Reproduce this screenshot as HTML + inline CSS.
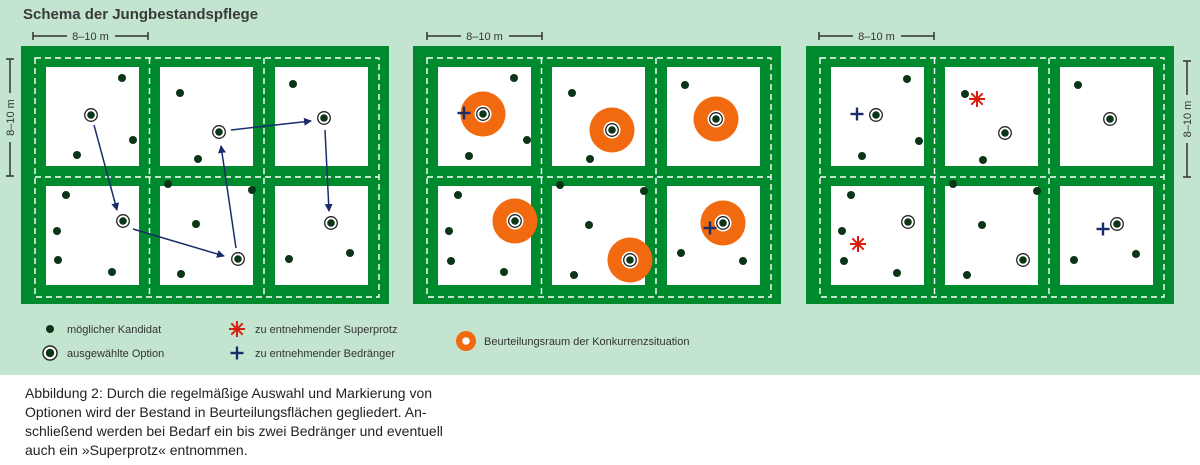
<!DOCTYPE html>
<html><head><meta charset="utf-8"><style>
html,body{margin:0;padding:0;background:#fff;}
svg{display:block;font-family:"Liberation Sans",sans-serif;}
</style></head><body>
<svg width="1200" height="465" viewBox="0 0 1200 465" xmlns="http://www.w3.org/2000/svg">
<defs>
<g id="panel">
<rect x="21" y="46" width="368" height="258" fill="#008a2e"/>
<rect x="46" y="67" width="93" height="99" fill="#fff"/>
<rect x="160" y="67" width="93" height="99" fill="#fff"/>
<rect x="275" y="67" width="93" height="99" fill="#fff"/>
<rect x="46" y="186" width="93" height="99" fill="#fff"/>
<rect x="160" y="186" width="93" height="99" fill="#fff"/>
<rect x="275" y="186" width="93" height="99" fill="#fff"/>
<g stroke="#fff" stroke-width="1.4" stroke-dasharray="6 4" fill="none">
<rect x="35" y="58" width="344" height="239"/>
<line x1="35" y1="177" x2="379" y2="177"/>
<line x1="149.5" y1="58" x2="149.5" y2="297"/>
<line x1="264" y1="58" x2="264" y2="297"/>
</g>
</g>
<g id="opt"><circle r="6.3" fill="#fff" stroke="#222" stroke-width="1.3"/><circle r="3.8" fill="#0b3516"/></g>
<g id="ring"><circle r="22.5" fill="#f26a0f"/><circle r="8.5" fill="#fff"/><use href="#opt"/></g>
<circle id="d" r="4" fill="#0b3516"/>
<g id="star" stroke="#d7200f" stroke-width="2"><line x1="-8" y1="0" x2="8" y2="0"/><line x1="0" y1="-8" x2="0" y2="8"/><line x1="-5.7" y1="-5.7" x2="5.7" y2="5.7"/><line x1="-5.7" y1="5.7" x2="5.7" y2="-5.7"/></g>
<g id="plus" stroke="#1a2d6b" stroke-width="2.4"><line x1="-6.5" y1="0" x2="6.5" y2="0"/><line x1="0" y1="-6.5" x2="0" y2="6.5"/></g>
<marker id="ah" markerWidth="8" markerHeight="8" refX="7" refY="4" orient="auto" markerUnits="userSpaceOnUse"><path d="M0,0 L8,4 L0,8 Z" fill="#1a2d6b"/></marker>
<g id="hbar" stroke="#333" stroke-width="1.5"><line x1="0" y1="-4" x2="0" y2="4"/><line x1="0" y1="0" x2="34" y2="0"/><line x1="82" y1="0" x2="115" y2="0"/><line x1="115" y1="-4" x2="115" y2="4"/></g>
</defs>
<rect x="0" y="0" width="1200" height="375" fill="#c3e4cf"/>
<text x="23" y="19" font-size="15" font-weight="bold" fill="#3a3a3a">Schema der Jungbestandspflege</text>

<!-- scale bars -->
<use href="#hbar" x="33" y="36"/><text x="90.5" y="40" font-size="11" fill="#333" text-anchor="middle">8–10 m</text>
<use href="#hbar" x="427" y="36"/><text x="484.5" y="40" font-size="11" fill="#333" text-anchor="middle">8–10 m</text>
<use href="#hbar" x="819" y="36"/><text x="876.5" y="40" font-size="11" fill="#333" text-anchor="middle">8–10 m</text>
<g stroke="#333" stroke-width="1.5">
<line x1="6" y1="59" x2="14" y2="59"/><line x1="10" y1="59" x2="10" y2="93"/><line x1="10" y1="142" x2="10" y2="176"/><line x1="6" y1="176" x2="14" y2="176"/>
<line x1="1183" y1="61" x2="1191" y2="61"/><line x1="1187" y1="61" x2="1187" y2="95"/><line x1="1187" y1="143" x2="1187" y2="177"/><line x1="1183" y1="177" x2="1191" y2="177"/>
</g>
<text transform="translate(14,117.5) rotate(-90)" font-size="11" fill="#333" text-anchor="middle">8–10 m</text>
<text transform="translate(1191,119) rotate(-90)" font-size="11" fill="#333" text-anchor="middle">8–10 m</text>

<use href="#panel"/>
<use href="#panel" x="392"/>
<use href="#panel" x="785"/>

<!-- panel 1 -->
<g>
<use href="#d" x="122" y="78"/><use href="#d" x="180" y="93"/><use href="#d" x="133" y="140"/><use href="#d" x="77" y="155"/><use href="#d" x="293" y="84"/><use href="#d" x="198" y="159"/>
<use href="#d" x="66" y="195"/><use href="#d" x="57" y="231"/><use href="#d" x="58" y="260"/><use href="#d" x="112" y="272"/><use href="#d" x="168" y="184"/><use href="#d" x="252" y="190"/><use href="#d" x="196" y="224"/><use href="#d" x="181" y="274"/><use href="#d" x="289" y="259"/><use href="#d" x="350" y="253"/>
<g stroke="#1a2d6b" stroke-width="1.5" marker-end="url(#ah)">
<line x1="94" y1="125" x2="117" y2="210"/>
<line x1="231" y1="130" x2="311" y2="121"/>
<line x1="325" y1="130" x2="329" y2="211"/>
<line x1="133" y1="229" x2="224" y2="256"/>
<line x1="236" y1="248" x2="221" y2="146"/>
</g>
<use href="#opt" x="91" y="115"/><use href="#opt" x="219" y="132"/><use href="#opt" x="324" y="118"/><use href="#opt" x="123" y="221"/><use href="#opt" x="238" y="259"/><use href="#opt" x="331" y="223"/>
</g>

<!-- panel 2 -->
<g>
<use href="#d" x="514" y="78"/><use href="#d" x="572" y="93"/><use href="#d" x="527" y="140"/><use href="#d" x="469" y="156"/><use href="#d" x="685" y="85"/><use href="#d" x="590" y="159"/>
<use href="#d" x="458" y="195"/><use href="#d" x="449" y="231"/><use href="#d" x="451" y="261"/><use href="#d" x="504" y="272"/><use href="#d" x="560" y="185"/><use href="#d" x="644" y="191"/><use href="#d" x="589" y="225"/><use href="#d" x="574" y="275"/><use href="#d" x="743" y="261"/><use href="#d" x="681" y="253"/>
<use href="#ring" x="483" y="114"/><use href="#ring" x="612" y="130"/><use href="#ring" x="716" y="119"/><use href="#ring" x="515" y="221"/><use href="#ring" x="630" y="260"/><use href="#ring" x="723" y="223"/>
<use href="#plus" x="464" y="113"/><use href="#plus" x="710" y="228"/>
</g>

<!-- panel 3 -->
<g>
<use href="#d" x="907" y="79"/><use href="#d" x="862" y="156"/><use href="#d" x="919" y="141"/><use href="#d" x="965" y="94"/><use href="#d" x="983" y="160"/><use href="#d" x="1078" y="85"/>
<use href="#d" x="851" y="195"/><use href="#d" x="842" y="231"/><use href="#d" x="844" y="261"/><use href="#d" x="897" y="273"/><use href="#d" x="953" y="184"/><use href="#d" x="1037" y="191"/><use href="#d" x="982" y="225"/><use href="#d" x="967" y="275"/><use href="#d" x="1074" y="260"/><use href="#d" x="1136" y="254"/>
<use href="#opt" x="876" y="115"/><use href="#opt" x="1005" y="133"/><use href="#opt" x="1110" y="119"/><use href="#opt" x="908" y="222"/><use href="#opt" x="1023" y="260"/><use href="#opt" x="1117" y="224"/>
<use href="#star" x="977" y="99"/><use href="#star" x="858" y="244"/>
<use href="#plus" x="857" y="114"/><use href="#plus" x="1103" y="229"/>
</g>

<!-- legend -->
<use href="#d" x="50" y="329"/>
<g transform="translate(50,353)"><circle r="7" fill="#fff" stroke="#222" stroke-width="1.4"/><circle r="4.2" fill="#0b3516"/></g>
<text x="67" y="333" font-size="11" fill="#333">möglicher Kandidat</text>
<text x="67" y="357" font-size="11" fill="#333">ausgewählte Option</text>
<use href="#star" x="237" y="329"/>
<use href="#plus" x="237" y="353"/>
<text x="255" y="333" font-size="11" fill="#333">zu entnehmender Superprotz</text>
<text x="255" y="357" font-size="11" fill="#333">zu entnehmender Bedränger</text>
<circle cx="466" cy="341" r="10" fill="#f26a0f"/><circle cx="466" cy="341" r="3.8" fill="#fff"/>
<text x="484" y="345" font-size="11" fill="#333">Beurteilungsraum der Konkurrenzsituation</text>

<!-- caption -->
<g font-size="14" fill="#222">
<text x="25" y="398">Abbildung 2: Durch die regelmäßige Auswahl und Markierung von</text>
<text x="25" y="417">Optionen wird der Bestand in Beurteilungsflächen gegliedert. An-</text>
<text x="25" y="436">schließend werden bei Bedarf ein bis zwei Bedränger und eventuell</text>
<text x="25" y="455">auch ein »Superprotz« entnommen.</text>
</g>
</svg>
</body></html>
